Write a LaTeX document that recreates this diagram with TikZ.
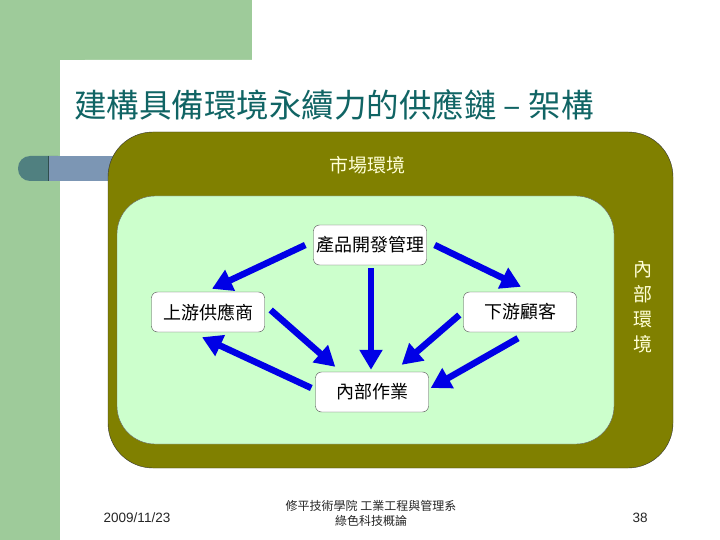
\documentclass[tikz,border=0pt]{standalone}
\usepackage{fontspec}
\setmainfont{Liberation Sans}
\newfontfamily\cjk{Noto Sans CJK TC}
\usetikzlibrary{arrows.meta,positioning}

\definecolor{bggreen}{RGB}{158,203,154}
\definecolor{barteal}{RGB}{80,128,128}
\definecolor{barblue}{RGB}{124,150,180}
\definecolor{outerol}{RGB}{128,128,0}
\definecolor{innergreen}{RGB}{204,255,204}
\definecolor{titleteal}{RGB}{16,100,100}
\definecolor{flowblue}{RGB}{0,0,230}
\definecolor{labelcream}{RGB}{255,255,215}

\begin{document}
\begin{tikzpicture}[x=1pt,y=-1pt,
  box/.style={draw=black!70, fill=white, rounded corners=6pt, minimum width=113pt, minimum height=40pt, inner sep=0pt, font=\cjk\fontsize{18}{20}\selectfont},
  flow/.style={draw=flowblue, line width=6.5pt, -{Triangle[length=20pt,width=22pt]}}]

\useasboundingbox (0,0) rectangle (720,540);

% slide background
\fill[white] (0,0) rectangle (720,540);
\fill[bggreen] (0,0) rectangle (252,60);
\fill[bggreen] (0,0) rectangle (60,540);
\fill[white] (60,540) [rounded corners=25pt] -- (60,60) -- (252,60) [sharp corners] -- (720,60) -- (720,540) -- cycle;
\fill[barteal, rounded corners=12pt] (18,156) rectangle (70,181);
\fill[barblue] (48,156) rectangle (115,181);
\draw[barteal!60!black] (48,156) -- (48,181);

\node[anchor=west, inner sep=0pt, text=titleteal, font=\cjk\fontsize{32.5}{36}\selectfont] (title) at (74,105) {建構具備環境永續力的供應鏈 – 架構};

% environments
\draw[black!80, fill=outerol, rounded corners=45pt] (108,132) rectangle (673,468);
\draw[black!60, fill=innergreen, rounded corners=38pt] (117,196) rectangle (614,444);
\node[text=labelcream, font=\cjk\fontsize{19}{20}\selectfont] (market) at (367,165) {市場環境};
\node[text=labelcream, align=center, font=\cjk\fontsize{19}{25}\selectfont] (inner) at (643,307) {內\\部\\環\\境};

% chain
\node[box] (prod) at (370,245) {產品開發管理};
\node[box] (up) at (208,312) {上游供應商};
\node[box] (down) at (520,312) {下游顧客};
\node[box] (ops) at (372,392) {內部作業};

\draw[flow] ([xshift=-8pt]prod.west) -- ([shift={(4pt,3pt)}]up.north);
\draw[flow] ([xshift=8pt]prod.east) -- ([shift={(1pt,5pt)}]down.north);
\draw[flow] ([shift={(1pt,-3pt)}]prod.south) -- ([shift={(-1pt,2pt)}]ops.north);
\draw[flow] ([shift={(6pt,2pt)}]up.east) -- ([shift={(20pt,5pt)}]ops.north west);
\draw[flow] ([shift={(-4pt,-3pt)}]down.west) -- ([shift={(-27pt,7pt)}]ops.north east);
\draw[flow] ([shift={(-2pt,-6pt)}]down.south) -- ([shift={(2pt,4pt)}]ops.east);
\draw[flow] ([shift={(-4pt,4pt)}]ops.west) -- ([shift={(-6pt,-5pt)}]up.south);

% footer
\node[text=black!85, font=\fontsize{13.5}{15}\selectfont] (date) at (137,518) {2009/11/23};
\node[text=black!85, align=center, font=\cjk\fontsize{12}{15}\selectfont] (school) at (371,513) {修平技術學院 工業工程與管理系\\綠色科技概論};
\node[text=black!85, font=\fontsize{13.5}{15}\selectfont] (page) at (640,518) {38};

\end{tikzpicture}
\end{document}
